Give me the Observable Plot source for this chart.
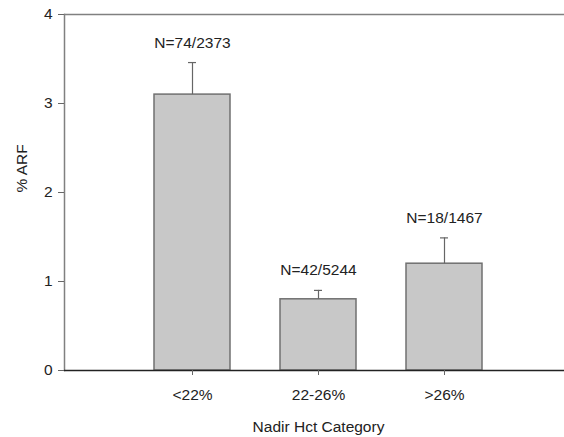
<!DOCTYPE html>
<html>
<head>
<meta charset="utf-8">
<script src="https://cdn.jsdelivr.net/npm/d3@7"></script>
<script src="https://cdn.jsdelivr.net/npm/@observablehq/plot@0.6"></script>
<style>
  html, body { margin: 0; padding: 0; background: #fff; }
  #chart svg { display: block; }
</style>
</head>
<body>
<div id="chart"></div>
<script>
const categories = ["<22%", "22-26%", ">26%"];
const arfPercent = [3.1, 0.8, 1.2];
const errorMargin = [0.36, 0.10, 0.29];
const nLabels = ["N=74/2373", "N=42/5244", "N=18/1467"];
const yTicks = [0, 1, 2, 3, 4];
const xTitle = "Nadir Hct Category";
const yTitle = "% ARF";

const rows = categories.map((c, i) => ({
  cat: c,
  value: arfPercent[i],
  top: arfPercent[i] + errorMargin[i],
  label: nLabels[i]
}));

const font = "'Liberation Sans', Arial, Helvetica, sans-serif";
const fs = 15.5;

const chart = Plot.plot({
  width: 564,
  height: 437,
  marginLeft: 64,
  marginRight: 0,
  marginTop: 14,
  marginBottom: 67,
  style: { fontFamily: font, fontSize: fs + "px", color: "#222", background: "#fff" },
  x: { domain: categories, paddingInner: 0.4, paddingOuter: 0.669, align: 0.524, label: null },
  y: { domain: [0, 4], label: null },
  marks: [
    Plot.ruleY([4], { stroke: "#808080", strokeWidth: 1.5 }),
    Plot.frame({ anchor: "left", stroke: "#808080", strokeWidth: 1.5 }),
    Plot.barY(rows, { x: "cat", y: "value", fill: "#c8c8c8", stroke: "#707070", strokeWidth: 1.5, insetLeft: 0, insetRight: 0 }),
    Plot.ruleX(rows, { x: "cat", y1: "value", y2: "top", stroke: "#666", strokeWidth: 1.2 }),
    Plot.tickY(rows, { x: "cat", y: "top", stroke: "#666", strokeWidth: 1.2, insetLeft: 34, insetRight: 34 }),
    Plot.text(rows, { x: "cat", y: "top", text: "label", dy: -15, lineAnchor: "bottom", fill: "#222", fontSize: fs }),
    Plot.ruleY([0], { stroke: "#222", strokeWidth: 1.5 }),
    Plot.axisY({ ticks: yTicks, tickSize: 6, tickPadding: 6, stroke: "#666", fill: "#222", fontSize: fs, tickFormat: d3.format("d"), label: null }),
    Plot.axisX({ tickSize: 5, tickPadding: 13, stroke: "#666", fill: "#222", fontSize: fs, label: null }),
    Plot.text([xTitle], { x: () => categories[1], frameAnchor: "bottom", dy: 61, lineAnchor: "bottom", fill: "#222", fontSize: fs }),
    Plot.text([yTitle], { frameAnchor: "left", dx: -42, rotate: -90, fill: "#222", fontSize: fs })
  ]
});

document.getElementById("chart").appendChild(chart);
</script>
</body>
</html>
